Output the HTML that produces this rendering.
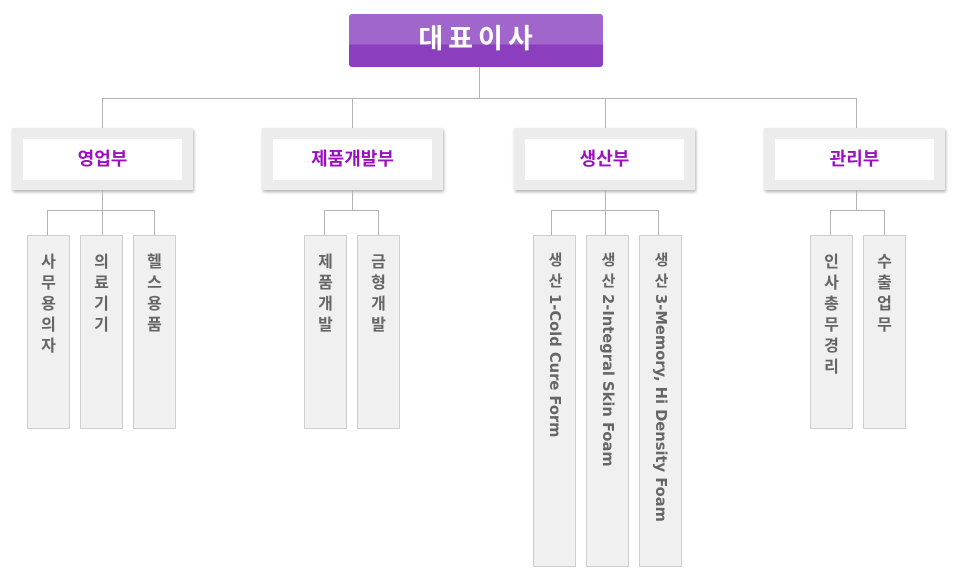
<!DOCTYPE html>
<html><head><meta charset="utf-8"><style>
body{margin:0;width:960px;height:574px;background:#fff;position:relative;overflow:hidden;font-family:"Liberation Sans","Noto Sans CJK KR",sans-serif}
.l{position:absolute;background:#b3b3b3}
.top{position:absolute;left:349px;top:14px;width:254px;height:53px;border-radius:3px;background:linear-gradient(#a066cc 0,#a066cc 58%,#8b3fbf 58%);color:#fff;font-size:27px;font-weight:bold;text-align:center;line-height:51px;letter-spacing:5px;text-indent:4px}
.d{position:absolute;top:128px;width:181px;height:62px;background:#ececec;box-shadow:1px 2px 3px rgba(0,0,0,.3)}
.d div{position:absolute;left:11px;top:11px;right:11px;bottom:10px;background:#fff;color:#9c0fc0;font-weight:bold;font-size:18px;text-align:center;line-height:41px}
.c{position:absolute;top:235px;width:41px;height:192px;background:#f0f0f0;border:1px solid #cfcfcf}
.c div{position:absolute;left:0;right:0;top:16px;text-align:center;color:#666;font-weight:bold;font-size:16px;line-height:21px}
.c .v{writing-mode:vertical-rl;text-orientation:mixed;left:10px;right:auto;line-height:21px;font-size:14.7px;font-family:"DejaVu Sans","Noto Sans CJK KR",sans-serif;font-weight:bold;letter-spacing:0}
.c .v span{letter-spacing:6px;font-size:15px;font-family:"Liberation Sans","Noto Sans CJK KR",sans-serif}
.tall{height:330px}
</style></head><body>
<div class="top">대표이사</div>
<div class="l" style="left:479px;top:67px;width:1px;height:31px"></div>
<div class="l" style="left:102px;top:98px;width:755px;height:1px"></div>
<div class="l" style="left:102px;top:98px;width:1px;height:30px"></div>
<div class="l" style="left:352px;top:98px;width:1px;height:30px"></div>
<div class="l" style="left:605px;top:98px;width:1px;height:30px"></div>
<div class="l" style="left:856px;top:98px;width:1px;height:30px"></div>
<div class="d" style="left:12px"><div>영업부</div></div>
<div class="d" style="left:262px"><div>제품개발부</div></div>
<div class="d" style="left:514px"><div>생산부</div></div>
<div class="d" style="left:764px"><div>관리부</div></div>
<div class="l" style="left:102px;top:190px;width:1px;height:45px"></div>
<div class="l" style="left:47px;top:210px;width:107px;height:1px"></div>
<div class="l" style="left:47px;top:210px;width:1px;height:25px"></div>
<div class="l" style="left:154px;top:210px;width:1px;height:25px"></div>
<div class="l" style="left:352px;top:190px;width:1px;height:20px"></div>
<div class="l" style="left:324px;top:210px;width:54px;height:1px"></div>
<div class="l" style="left:324px;top:210px;width:1px;height:25px"></div>
<div class="l" style="left:378px;top:210px;width:1px;height:25px"></div>
<div class="l" style="left:605px;top:190px;width:1px;height:45px"></div>
<div class="l" style="left:551px;top:210px;width:107px;height:1px"></div>
<div class="l" style="left:551px;top:210px;width:1px;height:25px"></div>
<div class="l" style="left:658px;top:210px;width:1px;height:25px"></div>
<div class="l" style="left:856px;top:190px;width:1px;height:20px"></div>
<div class="l" style="left:830px;top:210px;width:54px;height:1px"></div>
<div class="l" style="left:830px;top:210px;width:1px;height:25px"></div>
<div class="l" style="left:884px;top:210px;width:1px;height:25px"></div>
<div class="c" style="left:27px"><div>사<br>무<br>용<br>의<br>자</div></div>
<div class="c" style="left:80px"><div>의<br>료<br>기<br>기</div></div>
<div class="c" style="left:133px"><div>헬<br>스<br>용<br>품</div></div>
<div class="c" style="left:304px"><div>제<br>품<br>개<br>발</div></div>
<div class="c" style="left:357px"><div>금<br>형<br>개<br>발</div></div>
<div class="c tall" style="left:533px"><div class="v"><span>생산</span>1-Cold Cure Form</div></div>
<div class="c tall" style="left:586px"><div class="v"><span>생산</span>2-Integral Skin Foam</div></div>
<div class="c tall" style="left:639px"><div class="v"><span>생산</span>3-Memory, Hi Density Foam</div></div>
<div class="c" style="left:810px"><div>인<br>사<br>총<br>무<br>경<br>리</div></div>
<div class="c" style="left:863px"><div>수<br>출<br>업<br>무</div></div>
</body></html>
